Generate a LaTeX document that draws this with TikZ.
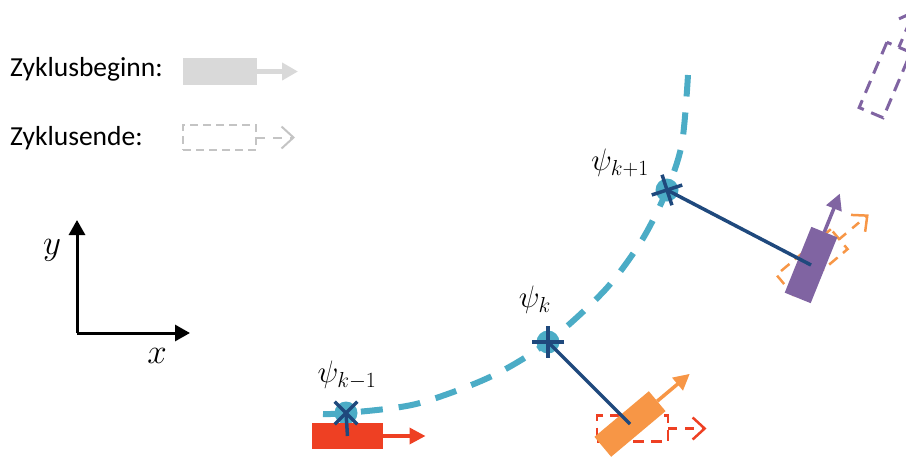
\documentclass[tikz,border=0pt]{standalone}
\usepackage{fix-cm}
\usepackage{fontspec}
\newfontfamily\legendfont{Carlito}
\usetikzlibrary{arrows.meta}
\definecolor{trackblue}{HTML}{4BACC6}
\definecolor{navy}{HTML}{1F497D}
\definecolor{vred}{HTML}{EE4023}
\definecolor{vorange}{HTML}{F79646}
\definecolor{vpurple}{HTML}{8064A2}
\definecolor{legsolid}{HTML}{D9D9D9}
\definecolor{legdash}{HTML}{C4C4C4}
\tikzset{
  track/.style={draw=trackblue, line width=6pt, dash pattern=on 22pt off 16pt},
  refpt/.style={circle, fill=trackblue, minimum size=23pt, inner sep=0pt},
  link/.style={draw=navy, line width=3.5pt},
  car/.style={fill=#1, inner sep=0pt, outer sep=0pt, minimum width=71pt, minimum height=26pt},
  ghost/.style={draw=#1, dash pattern=on 11pt off 7pt, line width=2.5pt, inner sep=0pt, outer sep=0pt,
                minimum width=71pt, minimum height=26pt},
  carhead/.style={draw=#1, line width=3.5pt, -{Triangle[length=16pt,width=16pt]}},
  ghosthead/.style={draw=#1, line width=2.5pt, dash pattern=on 9pt off 8pt, -{Straight Barb[length=12pt,width=22pt]}},
  axis/.style={draw=black, line width=3pt, -{Triangle[length=15pt,width=16pt]}},
  legtxt/.style={font=\legendfont\fontsize{27.5}{32}\selectfont, inner sep=0pt, anchor=base west},
  psilbl/.style={font=\fontsize{31}{34}\selectfont, inner sep=0pt},
  axislbl/.style={font=\fontsize{35}{38}\selectfont, inner sep=0pt},
}
\begin{document}
\begin{tikzpicture}[x=1pt, y=-1pt]
\useasboundingbox (0,0) rectangle (906,456);
\clip (0,0) rectangle (906,456);

% legend
\node[legtxt] (lbeg) at (10,76) {Zyklusbeginn:};
\node[legtxt] (lend) at (10,145) {Zyklusende:};
\node[car=legsolid, minimum width=74pt, minimum height=27pt] (lbox1) at (220,71.5) {};
\coordinate (ltip1) at (298,71.5);
\draw[carhead=legsolid, line width=5pt, -{Triangle[length=16pt,width=17pt]}] (lbox1.east) -- (ltip1);
\node[ghost=legdash, minimum width=73pt, minimum height=25pt, line width=2pt, dash pattern=on 8pt off 5pt] (lbox2) at (219.5,137.5) {};
\coordinate (ltip2) at (295,137.5);
\draw[ghosthead=legdash, line width=2pt] (lbox2.east) -- (ltip2);

% axes
\coordinate (origin) at (77,333);
\coordinate (ytip) at (77,220);
\coordinate (xtip) at (190,333);
\draw[axis] (origin) -- (ytip);
\draw[axis] (origin) -- (xtip);
\node[axislbl] (ylab) at (52,250) {$y$};
\node[axislbl] (xlab) at (157,356) {$x$};

% path
\draw[track] plot[smooth] coordinates {(323,414) (346,413) (416,404) (490,377) (548,342)
  (605,290) (642,240) (667,190) (682,143) (688,75)};
\node[refpt] (psiPrev) at (346,413) {};
\node[refpt] (psiCur) at (548,342) {};
\node[refpt] (psiNext) at (667,190) {};
\node[psilbl] (lblPrev) at (347,375) {$\psi_{k-1}$};
\node[psilbl] (lblCur) at (535,300) {$\psi_k$};
\node[psilbl] (lblNext) at (620,163) {$\psi_{k+1}$};

% vehicles at cycle end (dashed)
\node[ghost=vred] (redEnd) at (632.5,428.5) {};
\draw[ghosthead=vred] (redEnd.east) -- ([shift={(0:74pt)}]redEnd.center);
\node[ghost=vorange, rotate=40] (orangeEnd) at (812,262) {};
\draw[ghosthead=vorange] (orangeEnd.east) -- ([shift={(40:74pt)}]orangeEnd.center);
\node[ghost=vpurple, line width=3pt, dash pattern=on 13pt off 8pt, rotate=67] (purpleEnd) at (885,80) {};
\draw[ghosthead=vpurple, line width=3pt] (purpleEnd.east) -- ([shift={(67:76pt)}]purpleEnd.center);

% vehicles at cycle begin
\node[car=vred] (red) at (347.5,436) {};
\draw[carhead=vred] (red.east) -- ([shift={(0:78pt)}]red.center);
\node[car=vorange, rotate=40] (orange) at (630,424) {};
\draw[carhead=vorange] (orange.east) -- ([shift={(40:78pt)}]orange.center);
\node[car=vpurple, minimum height=28pt, rotate=68] (purple) at (811,265) {};
\draw[carhead=vpurple] (purple.east) -- ([shift={(68:77pt)}]purple.center);

% links and orientation crosses
\draw[link] (psiPrev.center) -- (red.center);
\draw[link] (psiCur.center) -- (orange.center);
\draw[link] (psiNext.center) -- (purple.center);
\foreach \p/\a in {psiPrev/45, psiCur/0, psiNext/18} {
  \draw[link] ([shift={(\a:16pt)}]\p.center) -- ([shift={(\a+180:16pt)}]\p.center);
  \draw[link] ([shift={(\a+90:16pt)}]\p.center) -- ([shift={(\a+270:16pt)}]\p.center);
}
\end{tikzpicture}
\end{document}
